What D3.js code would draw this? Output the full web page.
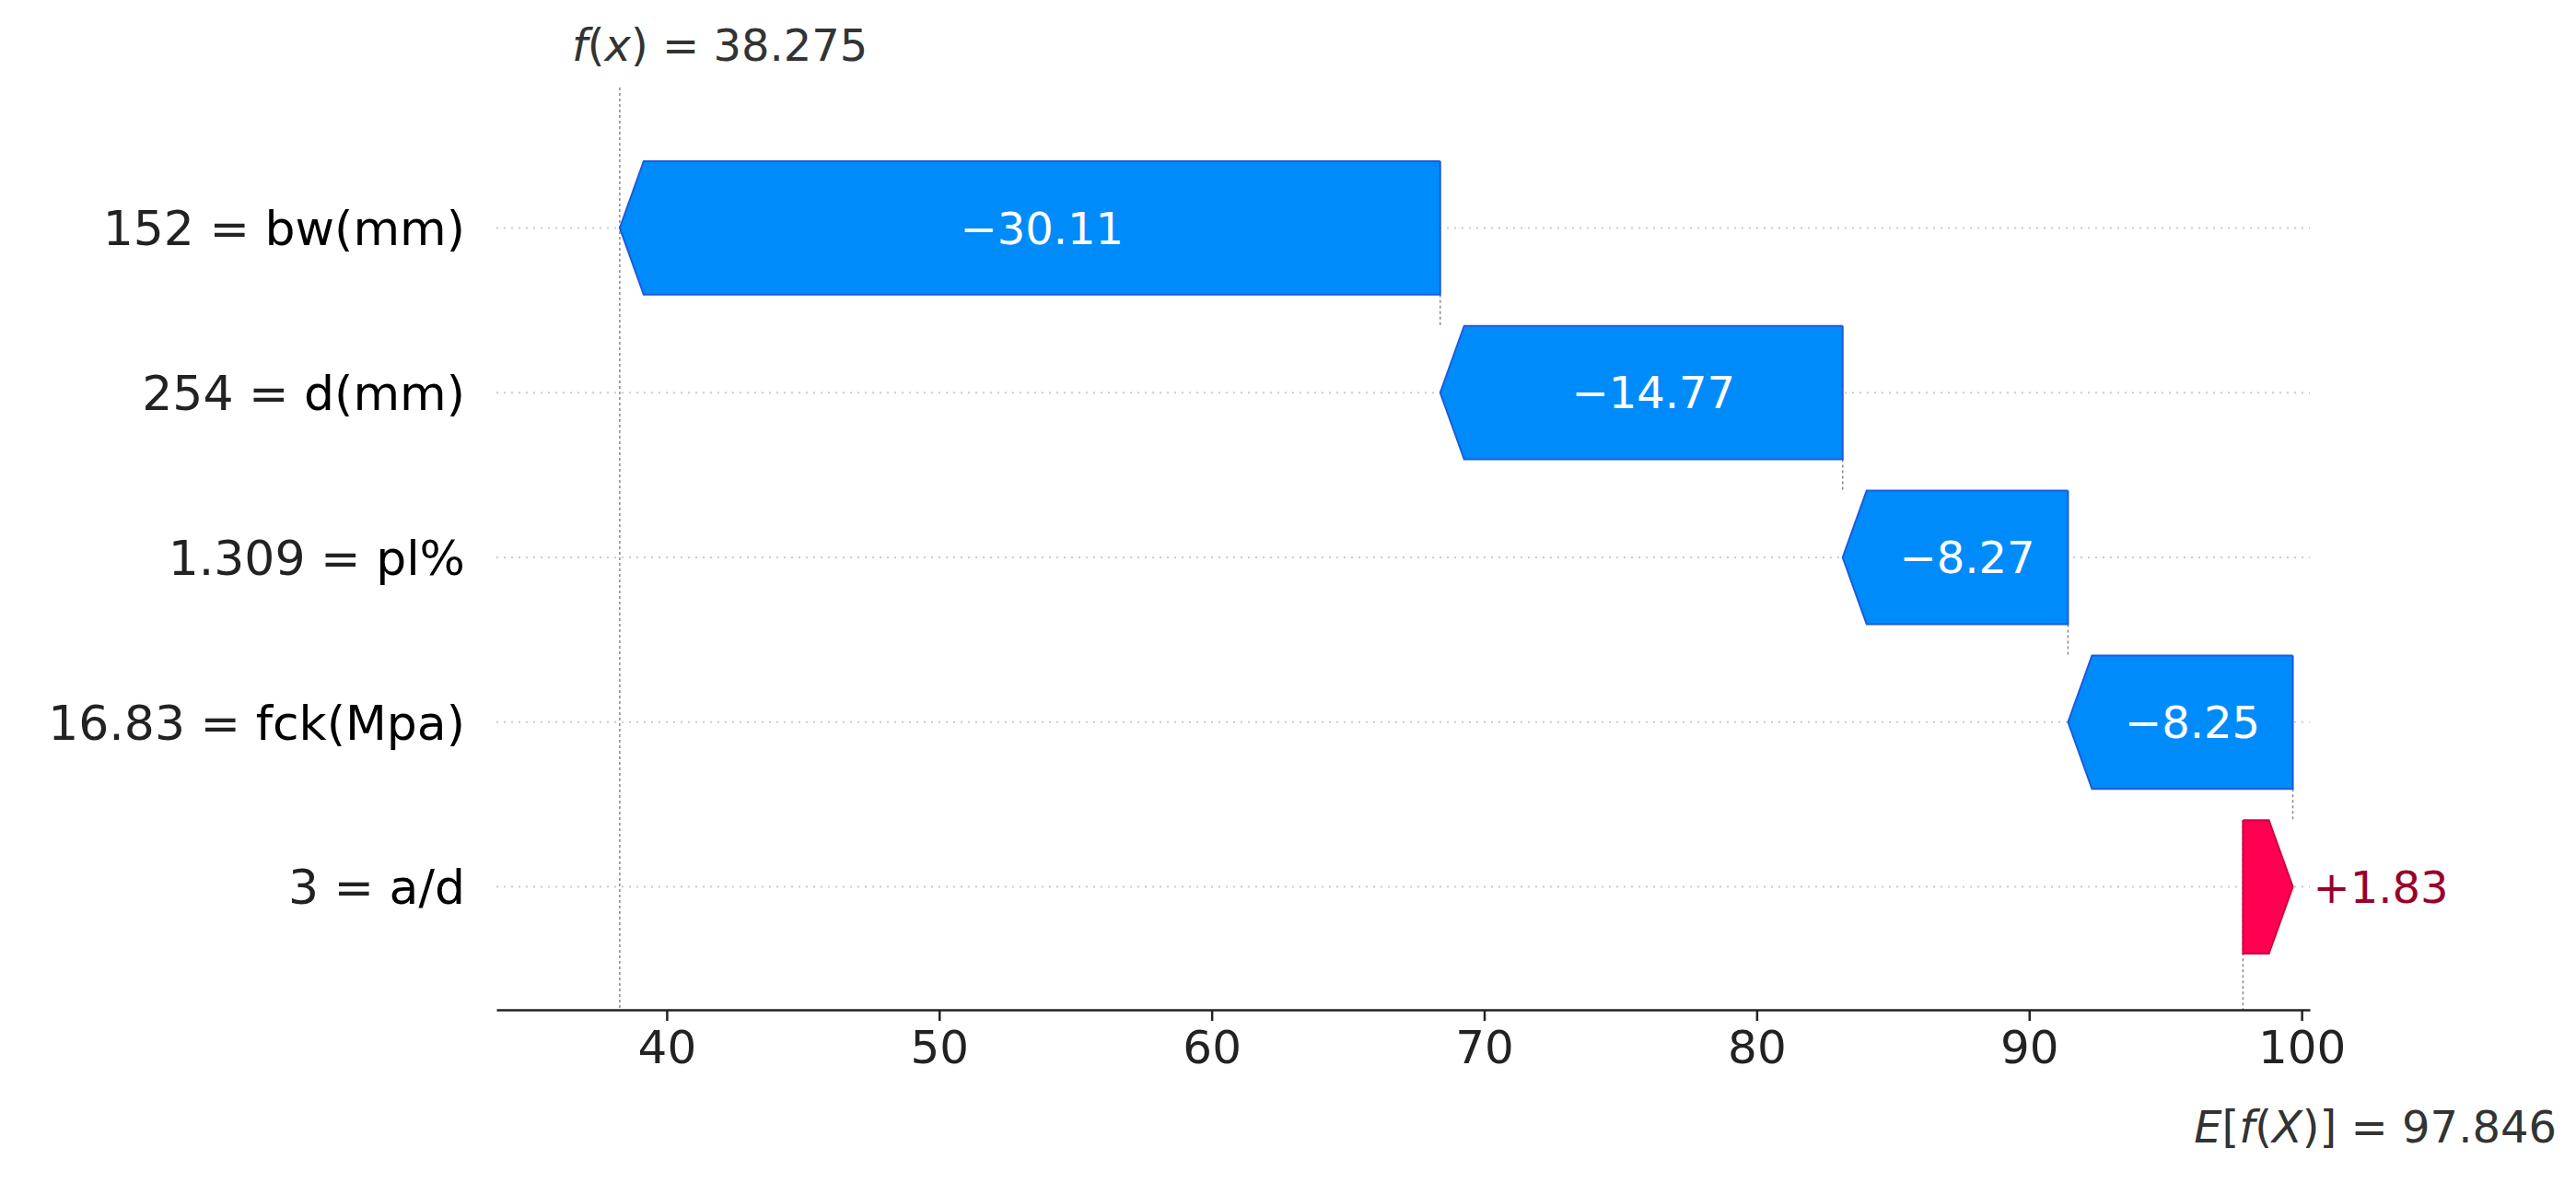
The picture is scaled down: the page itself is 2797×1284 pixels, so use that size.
<!DOCTYPE html>
<html><head><meta charset="utf-8">
<script src="https://cdn.jsdelivr.net/npm/d3@7"></script>
<style>body{margin:0;background:#fff}text{font-family:"DejaVu Sans",sans-serif}</style>
</head><body><div id="chart"></div>
<script>
// waterfall data, top row first
const features = ['152 = bw(mm)', '254 = d(mm)', '1.309 = pl%', '16.83 = fck(Mpa)', '3 = a/d']
const shapValues = [-30.11, -14.77, -8.27, -8.25, 1.83]
const baseValue = 97.846
const fxValue = 38.275
const xTicks = [40, 50, 60, 70, 80, 90, 100]

const W = 2797, H = 1284
const svg = d3.select('#chart').append('svg').attr('width', W).attr('height', H)

const x = d3.scaleLinear().domain([33.75, 100.3]).range([539, 2508])
const y = d3.scaleBand().domain(features).range([141, 1069]).padding(0.19)
const axisY = 1096

// cumulative ends, walking up from the base value
const rows = []
let cur = baseValue
for (let i = features.length - 1; i >= 0; i--) {
  const start = cur, end = cur + shapValues[i]
  rows[i] = { name: features[i], v: shapValues[i], start, end }
  cur = end
}

// gridlines
svg.append('g').selectAll('line').data(features).join('line')
  .attr('x1', 539).attr('x2', 2508)
  .attr('y1', d => y(d) + y.bandwidth() / 2).attr('y2', d => y(d) + y.bandwidth() / 2)
  .attr('stroke', '#ccc').attr('stroke-width', 2).attr('stroke-dasharray', '2,6')

// f(x) and E[f(X)] lines
svg.append('line').attr('x1', x(fxValue)).attr('x2', x(fxValue)).attr('y1', 95).attr('y2', axisY)
  .attr('stroke', '#888').attr('stroke-width', 1.5).attr('stroke-dasharray', '3,3')
svg.append('line').attr('x1', x(baseValue)).attr('x2', x(baseValue))
  .attr('y1', y(features[4])).attr('y2', axisY)
  .attr('stroke', '#888').attr('stroke-width', 1.5).attr('stroke-dasharray', '3,3')

// connectors between consecutive bars
for (let i = 0; i < rows.length - 1; i++) {
  const xx = x(rows[i].start)
  svg.append('line').attr('x1', xx).attr('x2', xx)
    .attr('y1', y(rows[i].name) + y.bandwidth()).attr('y2', y(rows[i + 1].name))
    .attr('stroke', '#888').attr('stroke-width', 1.5).attr('stroke-dasharray', '3,3')
}

// arrows
const head = 26
rows.forEach(r => {
  const y0 = y(r.name), h = y.bandwidth(), ym = y0 + h / 2
  const xs = x(r.start), xe = x(r.end)
  const neg = r.v < 0
  const hw = Math.min(head, Math.abs(xe - xs))
  let pts
  if (neg) {
    pts = [[xs, y0], [xe + hw, y0], [xe, ym], [xe + hw, y0 + h], [xs, y0 + h], [xs, y0]]
  } else {
    pts = [[xs, y0], [xe - hw, y0], [xe, ym], [xe - hw, y0 + h], [xs, y0 + h], [xs, y0]]
  }
  svg.append('path').attr('d', d3.line()(pts))
    .attr('fill', neg ? '#008bfb' : '#ff0051')
    .attr('stroke', neg ? '#1e5bd8' : '#d00040').attr('stroke-width', 2)
  const lbl = (neg ? '\u2212' : '+') + Math.abs(r.v).toFixed(2)
  if (Math.abs(xe - xs) > 150) {
    svg.append('text').attr('x', (xs + xe) / 2 + (neg ? hw / 2 : -hw / 2)).attr('y', ym)
      .attr('dy', '0.36em').attr('text-anchor', 'middle').attr('fill', '#fff')
      .attr('font-size', 48).text(lbl)
  } else {
    svg.append('text').attr('x', xe + 22).attr('y', ym).attr('dy', '0.36em')
      .attr('fill', '#99002b').attr('font-size', 48).text(lbl)
  }
})

// feature labels
svg.append('g').selectAll('text').data(features).join('text')
  .attr('x', 505).attr('y', d => y(d) + y.bandwidth() / 2).attr('dy', '0.36em')
  .attr('text-anchor', 'end').attr('font-size', 52).attr('fill', '#222')
  .each(function (d) {
    const [a, b] = d.split(' = ')
    const t = d3.select(this)
    t.append('tspan').text(a + ' = ')
    t.append('tspan').attr('fill', '#000').text(b)
  })

// x axis
const ax = svg.append('g').attr('transform', `translate(0,${axisY})`)
  .call(d3.axisBottom(x).tickValues(xTicks).tickSize(12).tickPadding(10).tickSizeOuter(0))
ax.select('.domain').attr('stroke', '#222').attr('stroke-width', 2.5)
ax.selectAll('.tick line').attr('stroke', '#222').attr('stroke-width', 2.5)
ax.selectAll('.tick text').attr('font-size', 50).attr('fill', '#222')
  .style('font-family', '"DejaVu Sans",sans-serif')

// top / bottom annotations
const topLabel = svg.append('text').attr('x', x(fxValue) - 52).attr('y', 66).attr('font-size', 48).attr('fill', '#333')
topLabel.append('tspan').attr('font-style', 'italic').text('f')
topLabel.append('tspan').text('(')
topLabel.append('tspan').attr('font-style', 'italic').text('x')
topLabel.append('tspan').text(') = 38.275')

const botLabel = svg.append('text').attr('x', 2776).attr('y', 1240).attr('text-anchor', 'end')
  .attr('font-size', 48).attr('fill', '#333')
botLabel.append('tspan').attr('font-style', 'italic').text('E')
botLabel.append('tspan').text('[')
botLabel.append('tspan').attr('font-style', 'italic').text('f')
botLabel.append('tspan').text('(')
botLabel.append('tspan').attr('font-style', 'italic').text('X')
botLabel.append('tspan').text(')]  = 97.846')
</script></body></html>
